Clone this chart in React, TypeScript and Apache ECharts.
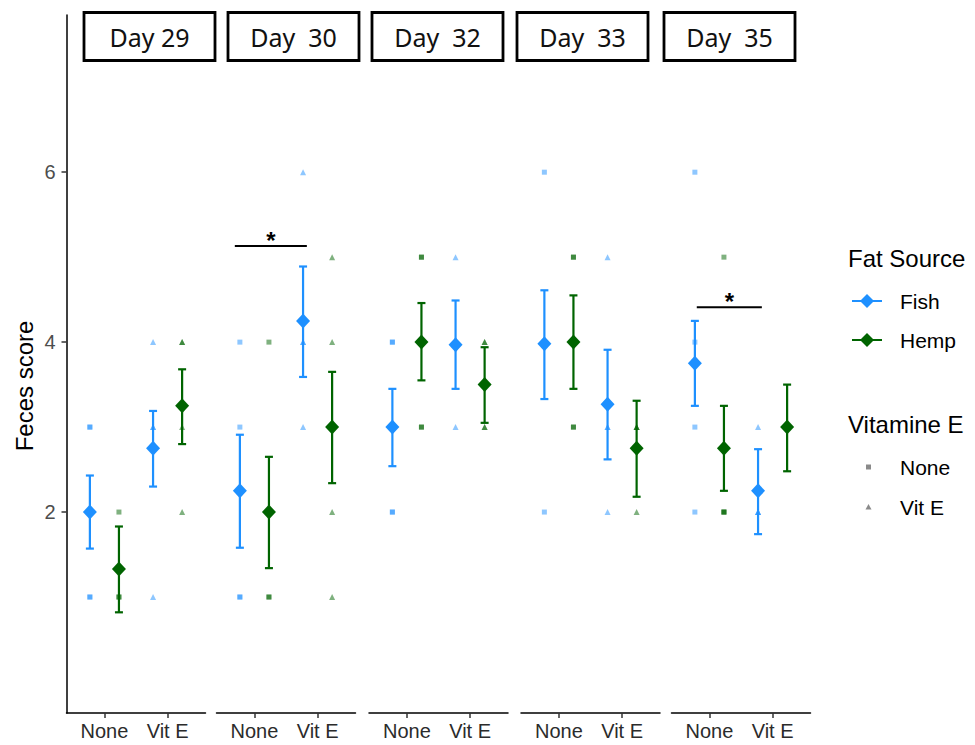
import React, { useEffect, useRef } from "react";
import * as echarts from "echarts";

// ---------- data ----------
const days = ["Day 29", "Day  30", "Day  32", "Day  33", "Day  35"];
const vitLevels = ["None", "Vit E"];
const fatSources = ["Fish", "Hemp"];

// [None, Vit E] per day
const fishMean = [[2.0, 2.75], [2.25, 4.25], [3.0, 3.97], [3.98, 3.27], [3.75, 2.25]];
const fishLow = [[1.57, 2.3], [1.58, 3.59], [2.54, 3.45], [3.33, 2.62], [3.25, 1.74]];
const fishHigh = [[2.43, 3.19], [2.91, 4.89], [3.45, 4.49], [4.61, 3.91], [4.25, 2.74]];
const hempMean = [[1.33, 3.25], [2.0, 3.0], [4.0, 3.5], [4.0, 2.75], [2.75, 3.0]];
const hempLow = [[0.82, 2.8], [1.34, 2.34], [3.55, 3.05], [3.45, 2.18], [2.25, 2.48]];
const hempHigh = [[1.83, 3.68], [2.65, 3.65], [4.46, 3.94], [4.55, 3.31], [3.25, 3.5]];

// raw observations per day
const fishRawNone = [[3, 3, 1, 1], [4, 3, 1, 1], [4, 4, 2, 2], [6, 4, 4, 2], [6, 4, 3, 2]];
const fishRawVitE = [[4, 3, 3, 1], [6, 4, 4, 3], [5, 4, 4, 3], [5, 3, 3, 2], [3, 2, 2, 2]];
const hempRawNone = [[2, 1, 1], [4, 1, 1], [5, 5, 3, 3], [5, 5, 3, 3], [5, 2, 2, 2]];
const hempRawVitE = [[4, 4, 3, 2], [5, 4, 2, 1], [4, 4, 3, 3], [3, 3, 3, 2], [3, 3, 3, 3]];

// significance brackets: panel index, x from, x to, y level
const sigPanel = [1, 4];
const sigFrom = [0.69, 0.8];
const sigTo = [1.83, 1.83];
const sigLevel = [5.13, 4.41];
const sigLabel = ["*", "*"];

const yTicks = [2, 4, 6];

// ---------- styling / layout ----------
const FISH = "#1E90FF";
const HEMP = "#006400";
const DODGE = 0.23;
const panelLefts = [66.5, 216.5, 369, 521, 671.5];
const panelWidth = 139;
const gridTop = 15;
const gridHeight = 698;
const stripLefts = [84, 228, 372, 517, 664];
const stripWidth = 131;
const AX = "Liberation Sans, Arial, sans-serif";

function errorBarSeries(panel: number, color: string, dx: number, low: number[], high: number[], name: string) {
  return {
    type: "custom",
    name,
    xAxisIndex: panel,
    yAxisIndex: panel,
    z: 3,
    data: vitLevels.map((_, j) => [j + 1 + dx, low[j], high[j]]),
    encode: { x: 0, y: [1, 2] },
    renderItem: (params: any, api: any) => {
      const x = api.value(0);
      const lo = api.coord([x, api.value(1)]);
      const hi = api.coord([x, api.value(2)]);
      const w = 4;
      const st = { stroke: color, lineWidth: 2.2 };
      return {
        type: "group",
        children: [
          { type: "line", shape: { x1: hi[0], y1: hi[1], x2: lo[0], y2: lo[1] }, style: st },
          { type: "line", shape: { x1: hi[0] - w, y1: hi[1], x2: hi[0] + w, y2: hi[1] }, style: st },
          { type: "line", shape: { x1: lo[0] - w, y1: lo[1], x2: lo[0] + w, y2: lo[1] }, style: st },
        ],
      };
    },
  };
}

function rawSeries(panel: number, color: string, x: number, values: number[], symbol: string, size: number) {
  return {
    type: "scatter",
    xAxisIndex: panel,
    yAxisIndex: panel,
    z: 4,
    symbol,
    symbolSize: size,
    itemStyle: { color, opacity: 0.5 },
    data: values.map((v) => [x, v]),
    silent: true,
  };
}

function meanSeries(panel: number, color: string, dx: number, means: number[], name: string) {
  return {
    type: "scatter",
    name,
    xAxisIndex: panel,
    yAxisIndex: panel,
    z: 5,
    symbol: "diamond",
    symbolSize: [14, 15],
    itemStyle: { color, opacity: 1 },
    data: vitLevels.map((_, j) => [j + 1 + dx, means[j]]),
  };
}

function buildOption() {
  const grid: any[] = [];
  const xAxis: any[] = [];
  const yAxis: any[] = [];
  const series: any[] = [];

  days.forEach((_, i) => {
    grid.push({ left: panelLefts[i], top: gridTop, width: panelWidth, height: gridHeight, containLabel: false });
    xAxis.push({
      type: "value",
      gridIndex: i,
      min: 0.4,
      max: 2.6,
      splitLine: { show: false },
      axisLine: { show: true, onZero: false, lineStyle: { color: "#000", width: 1.5 } },
      axisTick: { show: true, customValues: [1, 2], length: 5, lineStyle: { color: "#333", width: 1.5 } },
      axisLabel: {
        show: true,
        customValues: [1, 2],
        formatter: (v: number) => vitLevels[Math.round(v) - 1] ?? "",
        color: "#2b2b2b",
        fontFamily: AX,
        fontSize: 20,
        margin: 8,
      },
    });
    yAxis.push({
      type: "value",
      gridIndex: i,
      min: -0.365,
      max: 7.85,
      show: i === 0,
      splitLine: { show: false },
      axisLine: { show: true, lineStyle: { color: "#000", width: 1.5 } },
      axisTick: { show: true, customValues: yTicks, length: 5, lineStyle: { color: "#333", width: 1.5 } },
      axisLabel: {
        show: true,
        customValues: yTicks,
        color: "#4d4d4d",
        fontFamily: AX,
        fontSize: 20,
        margin: 11,
      },
    });

    // raw observations
    series.push(rawSeries(i, FISH, 1 - DODGE, fishRawNone[i], "rect", 5));
    series.push(rawSeries(i, HEMP, 1 + DODGE, hempRawNone[i], "rect", 5));
    series.push(rawSeries(i, FISH, 2 - DODGE, fishRawVitE[i], "triangle", 6));
    series.push(rawSeries(i, HEMP, 2 + DODGE, hempRawVitE[i], "triangle", 6));
    // error bars
    series.push(errorBarSeries(i, FISH, -DODGE, fishLow[i], fishHigh[i], fatSources[0]));
    series.push(errorBarSeries(i, HEMP, DODGE, hempLow[i], hempHigh[i], fatSources[1]));
    // means
    series.push(meanSeries(i, FISH, -DODGE, fishMean[i], fatSources[0]));
    series.push(meanSeries(i, HEMP, DODGE, hempMean[i], fatSources[1]));
  });

  // significance brackets
  sigPanel.forEach((p, k) => {
    series.push({
      type: "custom",
      xAxisIndex: p,
      yAxisIndex: p,
      z: 6,
      data: [[sigFrom[k], sigTo[k], sigLevel[k]]],
      encode: { x: [0, 1], y: 2 },
      renderItem: (params: any, api: any) => {
        const a = api.coord([api.value(0), api.value(2)]);
        const b = api.coord([api.value(1), api.value(2)]);
        return {
          type: "group",
          children: [
            { type: "line", shape: { x1: a[0], y1: a[1], x2: b[0], y2: b[1] }, style: { stroke: "#000", lineWidth: 2 } },
            {
              type: "text",
              x: (a[0] + b[0]) / 2,
              y: a[1] - 6,
              style: { text: sigLabel[k], fill: "#000", font: `bold 24px ${AX}`, align: "center", verticalAlign: "middle" },
            },
          ],
        };
      },
    });
  });

  // strips, y title, legend
  const graphic: any[] = [];
  days.forEach((d, i) => {
    graphic.push({
      type: "rect",
      shape: { x: stripLefts[i], y: 12.5, width: stripWidth, height: 48 },
      style: { fill: "#fff", stroke: "#000", lineWidth: 2.8 },
    });
    graphic.push({
      type: "text",
      x: stripLefts[i] + stripWidth / 2,
      y: 37,
      style: { text: d, fill: "#111", font: `25px "Noto Sans", sans-serif`, align: "center", verticalAlign: "middle" },
    });
  });
  graphic.push({
    type: "text",
    x: 24,
    y: 386,
    rotation: Math.PI / 2,
    style: { text: "Feces score", fill: "#000", font: `24px ${AX}`, align: "center", verticalAlign: "middle" },
  });

  const legX = 848;
  graphic.push({ type: "text", x: legX, y: 258, style: { text: "Fat Source", fill: "#000", font: `24px ${AX}`, align: "left", verticalAlign: "middle" } });
  const fatColors = [FISH, HEMP];
  const fatY = [301, 340];
  fatSources.forEach((f, k) => {
    const y = fatY[k];
    graphic.push({ type: "line", shape: { x1: 852, y1: y, x2: 882, y2: y }, style: { stroke: fatColors[k], lineWidth: 2 } });
    graphic.push({
      type: "polygon",
      shape: { points: [[867, y - 7], [874, y], [867, y + 7], [860, y]] },
      style: { fill: fatColors[k] },
    });
    graphic.push({ type: "text", x: 900, y, style: { text: f, fill: "#000", font: `21px ${AX}`, align: "left", verticalAlign: "middle" } });
  });
  graphic.push({ type: "text", x: legX, y: 424, style: { text: "Vitamine E", fill: "#000", font: `24px ${AX}`, align: "left", verticalAlign: "middle" } });
  const vitY = [467, 507];
  graphic.push({ type: "rect", shape: { x: 866, y: vitY[0] - 2.5, width: 5, height: 5 }, style: { fill: "#8a8a8a" } });
  graphic.push({
    type: "polygon",
    shape: { points: [[868.5, vitY[1] - 3], [871.5, vitY[1] + 2.5], [865.5, vitY[1] + 2.5]] },
    style: { fill: "#8a8a8a" },
  });
  vitLevels.forEach((v, k) => {
    graphic.push({ type: "text", x: 900, y: vitY[k], style: { text: v, fill: "#000", font: `21px ${AX}`, align: "left", verticalAlign: "middle" } });
  });

  return {
    animation: false,
    backgroundColor: "#fff",
    grid,
    xAxis,
    yAxis,
    series,
    graphic,
  };
}

export default function App() {
  const ref = useRef<HTMLDivElement>(null);
  useEffect(() => {
    if (!ref.current) return;
    const chart = echarts.init(ref.current, null, { renderer: "svg" });
    chart.setOption(buildOption() as any);
    return () => chart.dispose();
  }, []);
  return <div ref={ref} style={{ position: "fixed", left: 0, top: 0, width: 975, height: 745, background: "#fff" }} />;
}
